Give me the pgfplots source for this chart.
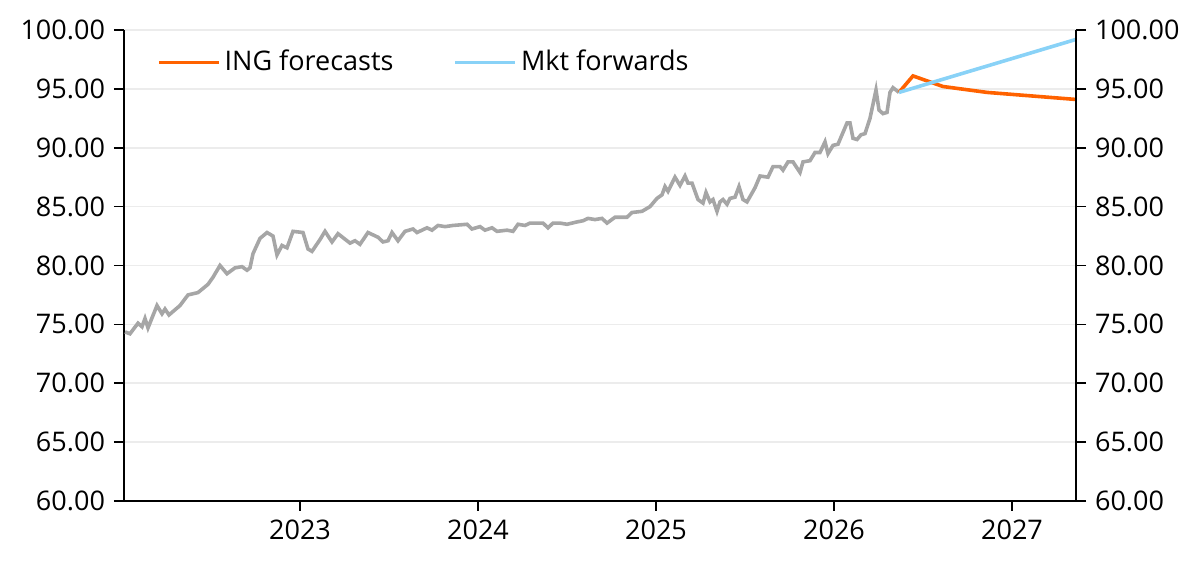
\documentclass[border=0pt]{standalone}
\usepackage{pgfplots}
\pgfplotsset{compat=1.18}
\usepackage{fontspec}
\setmainfont{Open Sans}
\definecolor{gline}{HTML}{A6A6A6}
\definecolor{ingor}{HTML}{FF6200}
\definecolor{mkt}{HTML}{89D2F7}
\begin{document}
\fontsize{13}{15}\selectfont
\begin{tikzpicture}
\useasboundingbox (-62pt,-32.5pt) rectangle (538pt,250.5pt);
\pgfplotsset{every axis/.style={scale only axis,width=476pt,height=235.5pt,at={(0,0)},anchor=south west,
 xmin=124,xmax=1076,ymin=60,ymax=100,ytick={60,65,...,100},
 /pgf/number format/assume math mode=true,
 yticklabel style={/pgf/number format/.cd,fixed,fixed zerofill,precision=2},
 tick style={black,thick},major tick length=5pt,
 tick label style={font=\fontsize{13.5}{15}\selectfont}}}
\begin{axis}[axis x line*=bottom,axis y line*=left,
 xtick={300,478,656,834,1012},xticklabels={2023,2024,2025,2026,2027},
 xtick pos=bottom,ytick pos=left,tick align=outside,
 ymajorgrids,grid style={gray!15,thick},axis line style={black,thick},
 legend image code/.code={\draw[#1,line width=1.8pt] (0pt,0pt) -- (30pt,0pt);},
 legend style={draw=none,fill=none,at={(0.028,0.975)},anchor=north west,legend columns=2,
   font=\fontsize{13.5}{15}\selectfont,/tikz/every even column/.append style={column sep=28pt}},
 legend cell align=left]
\addplot[gline,line width=1.8pt,forget plot] coordinates {
(125,74.36)(130,74.2)(138,75.1)(142,74.8)(145,75.5)(148,74.7)(157,76.6)(162,75.9)(165,76.3)(169,75.8)
(180,76.6)(188,77.5)(198,77.7)(208,78.4)(213,79.0)(220,80.0)(227,79.3)(235,79.8)(242,79.9)(247,79.6)
(250,79.8)(253,81.0)(260,82.3)(267,82.8)(273,82.5)(277,80.9)(282,81.7)(287,81.5)(293,82.9)(303,82.8)
(308,81.4)(312,81.2)(320,82.2)(325,82.9)(332,82.0)(338,82.7)(350,81.9)(355,82.1)(360,81.8)(368,82.8)
(378,82.4)(383,82.0)(388,82.1)(392,82.8)(398,82.1)(405,82.9)(413,83.1)(417,82.8)(427,83.2)(432,83.0)
(438,83.4)(445,83.3)(453,83.4)(467,83.5)(472,83.1)(480,83.3)(485,83.0)(492,83.2)(497,82.9)(507,83.0)
(513,82.9)(518,83.5)(525,83.4)(530,83.6)(543,83.6)(548,83.2)(553,83.6)(560,83.6)(567,83.5)(577,83.7)
(583,83.8)(588,84.0)(595,83.9)(602,84.0)(607,83.6)(615,84.1)(627,84.1)(632,84.5)(642,84.6)(650,85.0)
(657,85.7)(662,86.0)(665,86.7)(668,86.3)(675,87.5)(680,86.8)(685,87.6)(688,87.0)(692,87.0)(698,85.6)
(703,85.3)(706,86.2)(710,85.4)(713,85.6)(717,84.6)(720,85.4)(723,85.6)(727,85.2)(730,85.7)(735,85.8)
(739,86.7)(743,85.6)(747,85.4)(755,86.6)(760,87.6)(768,87.5)(773,88.4)(780,88.4)(783,88.1)(788,88.8)
(793,88.8)(800,87.9)(803,88.8)(810,88.9)(815,89.6)(820,89.6)(825,90.5)(828,89.5)(833,90.2)(838,90.3)
(847,92.1)(850,92.1)(853,90.8)(857,90.7)(861,91.1)(865,91.2)(870,92.5)(876,94.9)(879,93.2)(883,92.9)
(887,93.0)(890,94.7)(893,95.1)(899,94.7)};
\addplot[ingor,line width=1.8pt] coordinates {(899,94.7)(913,96.1)(943,95.2)(987,94.7)(1076,94.1)};
\addlegendentry{ING forecasts}
\addplot[mkt,line width=1.8pt] coordinates {(899,94.7)(1076,99.2)};
\addlegendentry{Mkt forwards}
\end{axis}
\begin{axis}[axis x line=none,axis y line*=right,xtick=\empty,ytick pos=right,tick align=outside,
 axis line style={black,thick}]
\addplot[draw=none] coordinates {(124,60)};
\end{axis}
\end{tikzpicture}
\end{document}
